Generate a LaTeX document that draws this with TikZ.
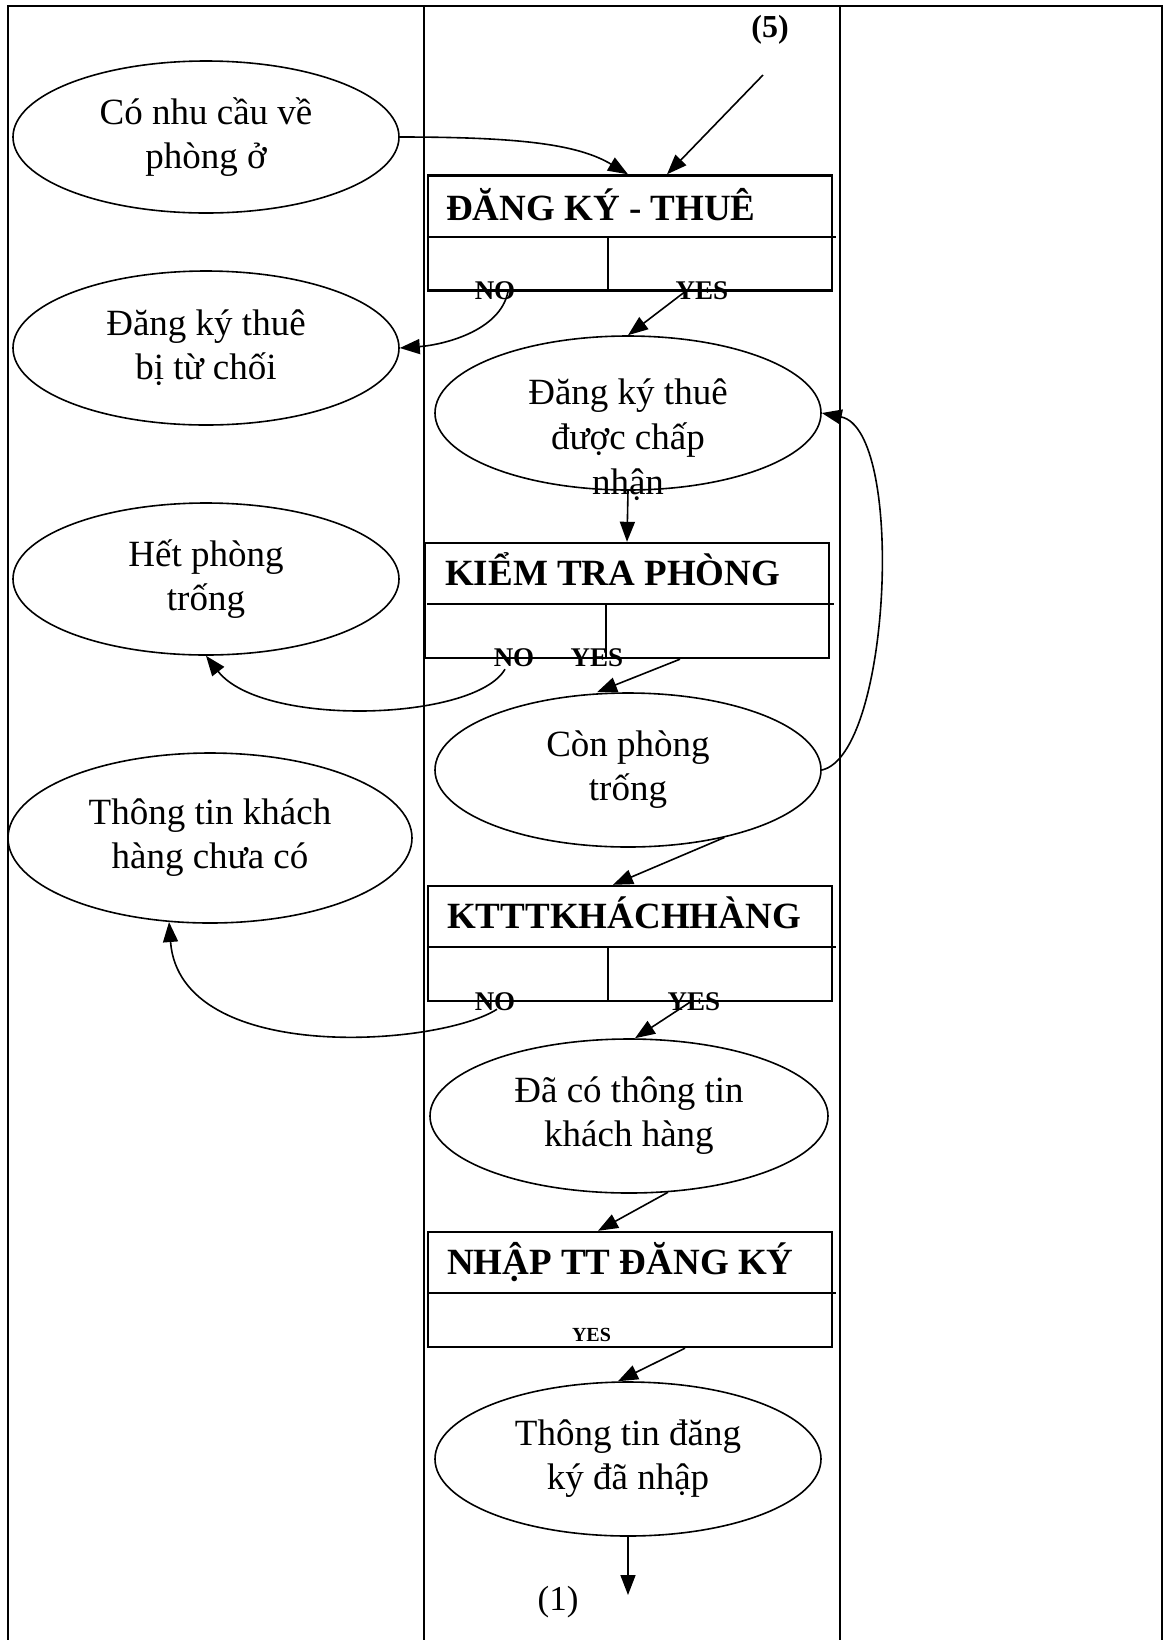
\documentclass[tikz,border=0pt]{standalone}
\usepackage{fontspec}
\setmainfont{Liberation Serif}
\usetikzlibrary{shapes.geometric,arrows.meta,calc}

\tikzset{
  lane/.style={line width=1.4pt},
  procbox/.style={draw,line width=1.2pt,minimum width=202pt,minimum height=57.5pt,inner sep=0pt},
  proctitle/.style={anchor=base west,inner sep=0pt,font=\bfseries\fontsize{18.5}{22}\selectfont},
  procrule/.style={line width=1pt},
  oval/.style={draw,ellipse,line width=0.8pt,inner sep=0pt,align=center,font=\fontsize{18.5}{22}\selectfont},
  ovaltext/.style={inner sep=0pt,align=center,font=\fontsize{18.5}{22.5}\selectfont},
  answer/.style={inner sep=0pt,font=\bfseries\fontsize{13.5}{16}\selectfont},
  flow/.style={->,line width=0.8pt},
}

\begin{document}
\begin{tikzpicture}[x=0.5pt,y=-0.5pt,>={Triangle[length=10pt,width=7.5pt]}]
  \useasboundingbox (0,0) rectangle (1163,1640);
  % swim lanes
  \draw[lane] (8,1640) -- (8,6) -- (1162,6) -- (1162,1640);
  \draw[lane] (424,6) -- (424,1640);
  \draw[lane] (840,6) -- (840,1640);

  % left lane
  \node[oval,minimum width=193pt,minimum height=76pt] (need) at (206,137) {Có nhu cầu về\\phòng ở};
  \node[oval,minimum width=193pt,minimum height=77pt] (refused) at (206,348) {Đăng ký thuê\\bị từ chối};
  \node[oval,minimum width=193pt,minimum height=76pt] (full) at (206,579) {Hết phòng\\trống};
  \node[oval,minimum width=202pt,minimum height=85pt] (nocust) at (210,838) {Thông tin khách\\hàng chưa có};

  % middle lane
  \node[answer,font=\bfseries\fontsize{16}{19}\selectfont] (p5) at (770,30) {(5)};
  \coordinate (from5) at (763,75);

  \node[procbox] (dk) at (630,233) {};
  \node[proctitle] (dkt) at ($(dk.north west)+(19,46)$) {ĐĂNG KÝ - THUÊ};
  \draw[procrule] ($(dk.north west)+(2,63)$) -- ($(dk.north east)+(3,63)$);
  \draw[procrule] ($(dk.north west)+(181,63)$) -- ($(dk.south west)+(181,0)$);
  \node[answer] (dkno) at (495,291) {NO};
  \node[answer] (dkyes) at (702,291) {YES};

  \node[oval,minimum width=193pt,minimum height=77pt] (acc) at (628,413) {};
  \node[ovaltext] (acctext) at (628,440) {Đăng ký thuê\\được chấp\\nhận};

  \node[procbox] (kt) at (627,600.5) {};
  \node[proctitle] (ktt) at ($(kt.north west)+(21,44)$) {KIỂM TRA PHÒNG};
  \draw[procrule] ($(kt.north west)+(3,62)$) -- ($(kt.north east)+(4,62)$);
  \draw[procrule] ($(kt.north west)+(182,62)$) -- ($(kt.south west)+(182,0)$);
  \node[answer] (ktno) at (514,658) {NO};
  \node[answer] (ktyes) at (597,658) {YES};

  \node[oval,minimum width=193pt,minimum height=77pt] (con) at (628,770) {Còn phòng\\trống};

  \node[procbox] (kh) at (630,943.5) {};
  \node[proctitle] (kht) at ($(kh.north west)+(20,44)$) {KTTTKHÁCHHÀNG};
  \draw[procrule] ($(kh.north west)+(2,62)$) -- ($(kh.north east)+(3,62)$);
  \draw[procrule] ($(kh.north west)+(181,62)$) -- ($(kh.south west)+(181,0)$);
  \node[answer] (khno) at (495,1002) {NO};
  \node[answer] (khyes) at (694,1002) {YES};

  \node[oval,minimum width=199pt,minimum height=77pt] (dc) at (629,1116) {Đã có thông tin\\khách hàng};

  \node[procbox] (nh) at (630,1289.5) {};
  \node[proctitle] (nht) at ($(nh.north west)+(20,44)$) {NHẬP TT ĐĂNG KÝ};
  \draw[procrule] ($(nh.north west)+(2,62)$) -- ($(nh.north east)+(3,62)$);
  \node[answer,font=\bfseries\fontsize{10}{12}\selectfont] (nhyes) at (591.5,1335) {YES};

  \node[oval,minimum width=193pt,minimum height=77pt] (tt) at (628,1459) {Thông tin đăng\\ký đã nhập};
  \coordinate (end1) at (628,1595);
  \node[inner sep=0pt,font=\fontsize{17.5}{20}\selectfont] (p1) at (558,1602) {(1)};

  % connectors
  \draw[flow] (need.east) .. controls +(120,0) and +(-50,-30) .. ([xshift=-1pt]dk.north);
  \draw[flow] (from5) -- ($(dk.north)+(37,0)$);
  \draw[flow] ($(dk.south)+(-122,0)$) .. controls +(-8,40) and +(42,-3) .. (refused.east);
  \draw[flow] ([xshift=27.5pt]dk.south) -- (acc.north);
  \draw[flow] (acc.south) -- (kt.north);
  \draw[flow] ($(kt.south)+(-122,10)$) .. controls +(-30,52) and +(56,72) .. (full.south);
  \draw[flow] ([xshift=26.5pt]kt.south) -- ([xshift=-15.5pt]con.north);
  \draw[flow] (con.east) .. controls +(69,-15) and +(84,17) .. (acc.east);
  \draw[flow] (con.-35) -- ([xshift=-8.5pt]kh.north);
  \draw[flow] ($(kh.south)+(-133,7)$) .. controls +(-57,37) and +(11,144) .. (nocust.-116);
  \draw[flow] ([xshift=30pt]kh.south) -- ([xshift=3pt]dc.north);
  \draw[flow] (dc.-63) -- ([xshift=-16pt]nh.north);
  \draw[flow] ([xshift=27.5pt]nh.south) -- ([xshift=-5pt]tt.north);
  \draw[flow] (tt.south) -- (end1);
\end{tikzpicture}
\end{document}
